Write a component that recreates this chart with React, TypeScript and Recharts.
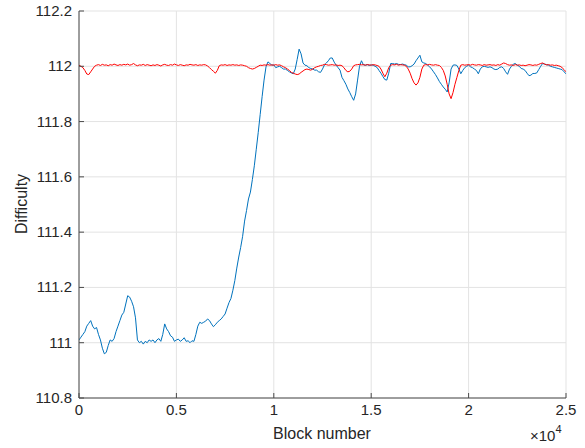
import React from "react"
import { LineChart, Line, XAxis, YAxis, CartesianGrid } from "recharts"

// block spacing between samples
const blockStep = 100

const blueDifficulty = [
  111.01, 111.02, 111.03, 111.04, 111.06, 111.07, 111.08, 111.06, 111.05, 111.055,
  111.03, 111.01, 110.98, 110.96, 110.965, 110.99, 111.01, 111.005, 111.015, 111.04,
  111.06, 111.08, 111.1, 111.11, 111.14, 111.17, 111.165, 111.15, 111.13, 111.09,
  111.01, 111.0, 111.005, 110.995, 111.005, 111.0, 111.01, 111.005, 111.01, 111.0,
  111.01, 111.015, 111.005, 111.03, 111.068, 111.05, 111.04, 111.025, 111.02, 111.005,
  111.01, 111.013, 111.005, 111.01, 111.018, 111.005, 111.007, 111.0, 111.007, 111.005,
  111.03, 111.06, 111.074, 111.07, 111.074, 111.078, 111.086, 111.08, 111.068, 111.058,
  111.065, 111.074, 111.08, 111.086, 111.095, 111.104, 111.125, 111.145, 111.16, 111.19,
  111.225, 111.27, 111.31, 111.345, 111.385, 111.44, 111.478, 111.52, 111.545, 111.59,
  111.64, 111.7, 111.76, 111.825, 111.89, 111.95, 111.998, 112.016, 112.01, 112.004,
  112.005, 111.995, 111.998, 112.0, 111.995, 111.99, 111.99, 111.985, 111.98, 111.976,
  111.973, 111.99, 112.025, 112.062, 112.045, 112.012, 112.004, 112.002, 111.995, 111.992,
  111.99, 111.986, 111.986, 111.98, 111.978, 111.99, 112.005, 112.012, 112.02, 112.03,
  112.03, 112.015, 112.004, 111.995, 111.986, 111.96, 111.948, 111.935, 111.918, 111.905,
  111.89, 111.877, 111.9, 111.95, 112.0, 112.02, 112.005, 112.004, 112.006, 112.003,
  112.005, 112.004, 112.0, 111.996, 111.985, 111.975, 111.963, 111.952, 111.95, 111.975,
  112.01, 112.01, 112.008, 112.01, 112.007, 112.006, 112.008, 112.006, 112.004, 111.998,
  111.998, 112.002, 112.008, 112.02, 112.03, 112.04, 112.016, 112.012, 112.01, 112.004,
  111.998, 111.99, 111.98, 111.97, 111.958, 111.945, 111.935, 111.925, 111.917, 111.907,
  111.94, 111.99, 112.004, 112.005, 112.003, 111.99, 111.973, 111.985, 111.995, 112.0,
  112.004, 111.998, 111.995, 111.99, 111.985, 111.973, 111.99, 111.998, 112.0, 111.998,
  111.996, 111.998, 111.995, 111.99, 111.988, 111.99, 111.996, 111.998, 111.992, 111.98,
  111.971, 111.99, 112.0, 112.008, 112.01, 112.004, 112.0, 111.992, 111.99, 111.985,
  111.975, 111.966, 111.968, 111.974, 111.974, 111.976, 111.988, 112.0, 112.01, 112.008,
  112.006, 112.004, 112.0, 111.998, 111.996, 111.994, 111.992, 111.99, 111.988, 111.98, 111.973,
]

const redDifficulty = [
  112.004, 112.0, 111.995, 111.985, 111.972, 111.97, 111.98, 111.99, 112.0, 112.004,
  112.006, 112.003, 112.007, 112.004, 112.005, 112.002, 112.006, 112.004, 112.008, 112.005,
  112.003, 112.006, 112.004, 112.007, 112.005, 112.008, 112.004, 112.006, 112.01, 112.005,
  112.002, 112.005, 112.004, 112.007, 112.003, 112.006, 112.004, 112.002, 112.005, 112.003,
  112.006, 112.004, 112.001, 112.005, 112.007, 112.004, 112.003, 112.006, 112.004, 112.008,
  112.005, 112.003, 112.006, 112.004, 112.002, 112.005, 112.004, 112.007, 112.005, 112.004,
  112.006, 112.003, 112.005, 112.004, 112.006, 112.005, 112.001, 111.995, 111.988, 111.982,
  111.975, 111.985, 112.002, 112.005, 112.004, 112.006, 112.003, 112.005, 112.004, 112.006,
  112.004, 112.005, 112.003, 112.005, 112.004, 112.002, 112.0, 111.995, 111.992, 111.99,
  111.992, 111.996, 112.0, 112.004, 112.003, 112.005, 112.004, 112.006, 112.004, 112.005,
  112.004, 112.006, 112.004, 112.005, 112.002, 111.998, 111.995, 111.99, 111.985, 111.978,
  111.975, 111.972, 111.97, 111.972, 111.978, 111.983, 111.988, 111.99, 111.988, 111.986,
  111.99, 111.995, 111.998, 112.0, 112.003, 112.004, 112.007, 112.006, 112.004, 112.005,
  112.006, 112.004, 112.005, 112.003, 112.004, 112.002, 111.995, 111.985, 111.98, 111.982,
  111.99, 112.002, 112.005, 112.006, 112.007, 112.005, 112.006, 112.004, 112.006, 112.005,
  112.004, 112.006, 112.005, 112.003, 112.0, 111.99, 111.975, 111.962, 111.975, 111.995,
  112.004, 112.006, 112.005, 112.007, 112.004, 112.006, 112.005, 112.004, 112.0, 111.99,
  111.975, 111.955, 111.94, 111.932, 111.94, 111.96, 111.99, 112.004, 112.006, 112.005,
  112.007, 112.005, 112.004, 112.006, 112.004, 112.003, 111.996, 111.985, 111.965, 111.935,
  111.9, 111.883, 111.905, 111.935, 111.96, 111.985, 112.004, 112.006, 112.004, 112.005,
  112.006, 112.004, 112.007, 112.005, 112.004, 112.006, 112.005, 112.003, 112.006, 112.004,
  112.005, 112.006, 112.004, 112.005, 112.003, 112.006, 112.004, 112.008, 112.012, 112.01,
  112.006, 112.004, 112.005, 112.003, 112.006, 112.004, 112.005, 112.003, 112.004, 112.002,
  112.004, 112.006, 112.005, 112.003, 112.005, 112.004, 112.007, 112.01, 112.012, 112.008,
  112.005, 112.006, 112.004, 112.005, 112.003, 112.004, 112.002, 112.0, 111.995, 111.988, 111.98,
]

const xTicks = [0, 5000, 10000, 15000, 20000, 25000]
const xTickLabels = ["0", "0.5", "1", "1.5", "2", "2.5"]
const yTicks = [110.8, 111, 111.2, 111.4, 111.6, 111.8, 112, 112.2]
const yTickLabels = ["110.8", "111", "111.2", "111.4", "111.6", "111.8", "112", "112.2"]

const data = blueDifficulty.map((v, i) => ({
  block: i * blockStep,
  blue: v,
  red: redDifficulty[i],
}))

const font = "'Liberation Sans', Arial, sans-serif"
const axisColor = "#4a4a4a"
const textColor = "#262626"
const tickLen = 5

const BottomTick = (props: any) => {
  const { x, y, payload } = props
  const idx = xTicks.indexOf(payload.value)
  return (
    <g>
      <line x1={x} x2={x} y1={y} y2={y - tickLen} stroke={axisColor} />
      <text x={x} y={y + 17} textAnchor="middle" fontSize={15} fill={textColor} fontFamily={font}>
        {xTickLabels[idx]}
      </text>
    </g>
  )
}

const TopTick = (props: any) => {
  const { x, y } = props
  return <line x1={x} x2={x} y1={y} y2={y + tickLen} stroke={axisColor} />
}

const LeftTick = (props: any) => {
  const { x, y, payload } = props
  const idx = yTicks.findIndex((t) => Math.abs(t - payload.value) < 1e-6)
  return (
    <g>
      <line x1={x} x2={x + tickLen} y1={y} y2={y} stroke={axisColor} />
      <text x={x - 7} y={y + 5} textAnchor="end" fontSize={15} fill={textColor} fontFamily={font}>
        {yTickLabels[idx]}
      </text>
    </g>
  )
}

const RightTick = (props: any) => {
  const { x, y } = props
  return <line x1={x} x2={x - tickLen} y1={y} y2={y} stroke={axisColor} />
}

export default function App() {
  return (
    <div style={{ position: "absolute", left: 0, top: 0, width: 585, height: 448, background: "#fff" }}>
      <LineChart width={585} height={448} data={data} margin={{ top: 11, right: 19, bottom: 0, left: 0 }}>
        <CartesianGrid stroke="#e3e3e3" horizontal vertical />
        <XAxis
          dataKey="block"
          type="number"
          domain={[0, 25000]}
          ticks={xTicks}
          height={50}
          stroke={axisColor}
          tickLine={false}
          tickSize={0}
          tickMargin={0}
          tick={<BottomTick />}
          interval={0}
          allowDataOverflow
        />
        <XAxis
          xAxisId="top"
          orientation="top"
          dataKey="block"
          type="number"
          domain={[0, 25000]}
          ticks={xTicks}
          height={0}
          stroke={axisColor}
          tickLine={false}
          tickSize={0}
          tickMargin={0}
          tick={<TopTick />}
          interval={0}
        />
        <YAxis
          type="number"
          domain={[110.8, 112.2]}
          ticks={yTicks}
          width={79}
          stroke={axisColor}
          tickLine={false}
          tickSize={0}
          tickMargin={0}
          tick={<LeftTick />}
          interval={0}
          allowDataOverflow
        />
        <YAxis
          yAxisId="right"
          orientation="right"
          type="number"
          domain={[110.8, 112.2]}
          ticks={yTicks}
          width={0}
          stroke={axisColor}
          tickLine={false}
          tickSize={0}
          tickMargin={0}
          tick={<RightTick />}
          interval={0}
        />
        <Line dataKey="blue" stroke="#0072BD" strokeWidth={1} dot={false} isAnimationActive={false} />
        <Line dataKey="red" stroke="#FF0000" strokeWidth={1} dot={false} isAnimationActive={false} />
      </LineChart>
      <div
        style={{
          position: "absolute",
          left: 0,
          width: 644,
          top: 425,
          textAlign: "center",
          fontFamily: font,
          fontSize: 16,
          color: textColor,
        }}
      >
        Block number
      </div>
      <div
        style={{
          position: "absolute",
          left: 22,
          top: 204,
          transform: "translate(-50%, -50%) rotate(-90deg)",
          fontFamily: font,
          fontSize: 16,
          color: textColor,
          whiteSpace: "nowrap",
        }}
      >
        Difficulty
      </div>
      <div
        style={{
          position: "absolute",
          left: 530,
          top: 427,
          fontFamily: font,
          fontSize: 15,
          color: textColor,
          whiteSpace: "nowrap",
        }}
      >
        ×10<sup style={{ fontSize: 11, verticalAlign: "top", position: "relative", top: -4 }}>4</sup>
      </div>
    </div>
  )
}
